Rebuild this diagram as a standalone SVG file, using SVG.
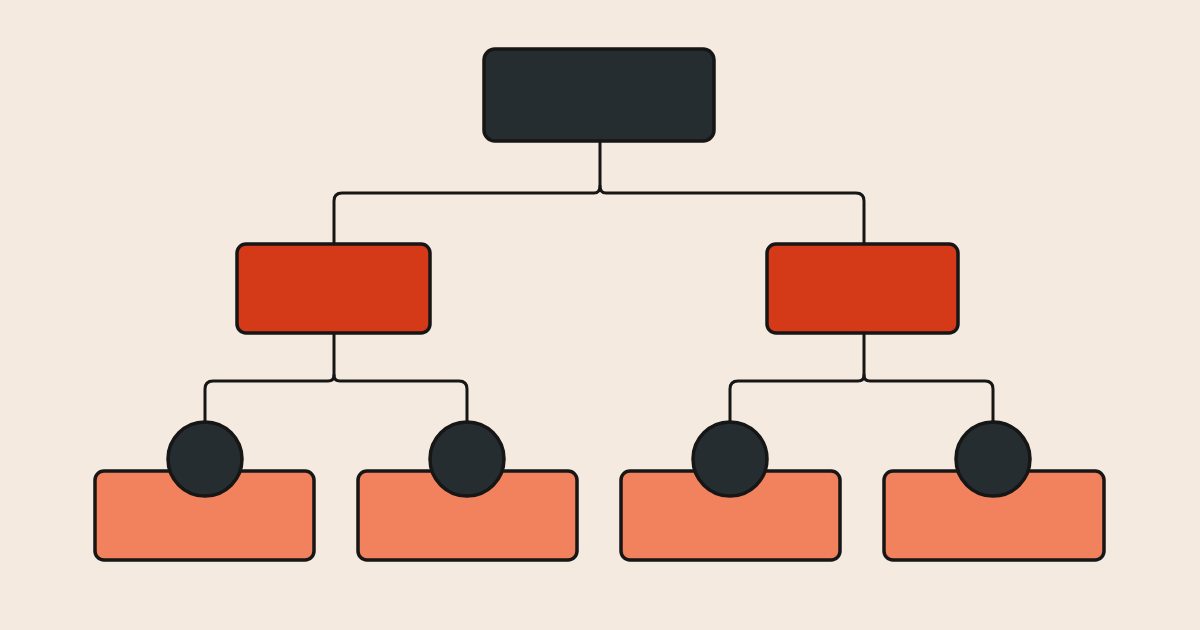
<svg xmlns="http://www.w3.org/2000/svg" width="1200" height="630" viewBox="0 0 1200 630">
<style>
.n{stroke:#161616;stroke-width:3.5}
.root{fill:#252d30}
.mid{fill:#d43a18}
.leaf{fill:#f1825d}
.dot{fill:#252d30}
.c{fill:none;stroke:#161616;stroke-width:3;stroke-linejoin:round;stroke-linecap:round}
</style>
<rect width="1200" height="630" fill="#f5eadf"/>
<g id="connectors">
<path class="c" d="M600 141V186Q600 193 594 193H342Q334 193 334 201V244"/>
<path class="c" d="M600 186Q600 193 606 193H856Q864 193 864 201V244"/>
<path class="c" d="M334 333V375Q334 381 328 381H213Q205 381 205 389V421"/>
<path class="c" d="M334 375Q334 381 340 381H459Q467 381 467 389V421"/>
<path class="c" d="M864 333V375Q864 381 858 381H738Q730 381 730 389V421"/>
<path class="c" d="M864 375Q864 381 870 381H985Q993 381 993 389V421"/>
</g>
<g id="root"><rect class="n root" x="484" y="49" width="230" height="92" rx="11"/></g>
<g id="mid-left"><rect class="n mid" x="237" y="244" width="193" height="89" rx="9"/></g>
<g id="mid-right"><rect class="n mid" x="767" y="244" width="191" height="89" rx="9"/></g>
<g id="leaf-1"><rect class="n leaf" x="95" y="471" width="219" height="89" rx="9"/><circle class="n dot" cx="205" cy="459" r="37"/></g>
<g id="leaf-2"><rect class="n leaf" x="358" y="471" width="219" height="89" rx="9"/><circle class="n dot" cx="467" cy="459" r="37"/></g>
<g id="leaf-3"><rect class="n leaf" x="621" y="471" width="219" height="89" rx="9"/><circle class="n dot" cx="730" cy="459" r="37"/></g>
<g id="leaf-4"><rect class="n leaf" x="884" y="471" width="220" height="89" rx="9"/><circle class="n dot" cx="993" cy="459" r="37"/></g>
</svg>
